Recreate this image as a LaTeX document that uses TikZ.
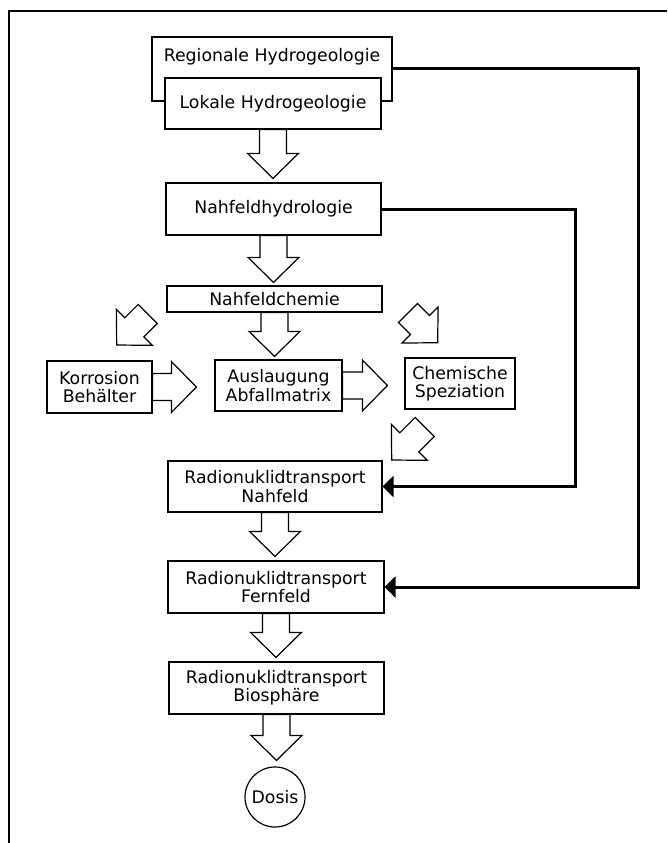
\documentclass[tikz,border=0pt]{standalone}
\usepackage{fontspec}
\setmainfont{DejaVu Sans}
\usetikzlibrary{calc,arrows.meta}
\newcommand\lbl{\fontsize{17.3pt}{18.3pt}\selectfont}
% outlined block arrow from #1 to #2 (tip at #2)
\newcommand\blockarr[2]{%
  \path (#1) coordinate (ba-a) (#2) coordinate (ba-b);
  \path ($(ba-b)!25pt!(ba-a)$) coordinate (ba-h);
  \draw[barr] ($(ba-a)!13.5pt!90:(ba-b)$) -- ($(ba-h)!13.5pt!-90:(ba-a)$)
    -- ($(ba-h)!25.5pt!-90:(ba-a)$) -- (ba-b) -- ($(ba-h)!25.5pt!90:(ba-a)$)
    -- ($(ba-h)!13.5pt!90:(ba-a)$) -- ($(ba-a)!13.5pt!-90:(ba-b)$) -- cycle;}
\begin{document}
\begin{tikzpicture}[x=1pt,y=-1pt,
  box/.style={draw, line width=1.2pt, rectangle, inner sep=0pt, align=center, fill=white, font=\lbl},
  barr/.style={draw, line width=1.2pt, fill=white, line join=miter},
  feed/.style={line width=3pt, line join=miter, -{Triangle[length=11pt,width=21pt]}},
  frame/.style={line width=1.3pt}]
\useasboundingbox (0,0) rectangle (667,843);
\draw[frame] (667,11) -- (9,11) -- (9,843);

% boxes
\node[box, minimum width=240pt, minimum height=64pt] (reg) at (272,69) {};
\node[font=\lbl, inner sep=0pt] (regt) at (272,57) {Regionale Hydrogeologie};
\node[box, minimum width=216pt, minimum height=51pt] (lok) at (273,103.5) {Lokale Hydrogeologie};
\node[box, minimum width=215pt, minimum height=52pt] (hyd) at (273.5,209) {Nahfeldhydrologie};
\node[box, minimum width=215pt, minimum height=26pt] (chem) at (274.5,299) {Nahfeldchemie};
\node[box, minimum width=105pt, minimum height=52pt] (kor) at (99.5,387) {Korrosion\\Behälter};
\node[box, minimum width=127pt, minimum height=51pt] (aus) at (278.5,385.5) {Auslaugung\\Abfallmatrix};
\node[box, minimum width=110pt, minimum height=51pt] (spez) at (460,383.5) {Chemische\\Speziation};
\node[box, minimum width=214pt, minimum height=51pt] (rnn) at (275,486.5) {Radionuklidtransport\\Nahfeld};
\node[box, minimum width=216pt, minimum height=52pt] (rnf) at (276,587) {Radionuklidtransport\\Fernfeld};
\node[box, minimum width=215pt, minimum height=52pt] (rnb) at (276.5,688) {Radionuklidtransport\\Biosphäre};
\node[box, circle, minimum size=60pt] (dos) at (275,797) {Dosis};

% vertical block arrows
\blockarr{lok.south}{$(lok.south |- hyd.north)+(0,-4)$}
\blockarr{hyd.south}{$(hyd.south |- chem.north)+(0,-3)$}
\blockarr{chem.south}{$(chem.south |- aus.north)+(0,-3)$}
\blockarr{rnn.south}{$(rnn.south |- rnf.north)+(0,-4)$}
\blockarr{rnf.south}{$(rnf.south |- rnb.north)+(0,-4)$}
\blockarr{rnb.south}{$(rnb.south |- dos.north)+(0,-6)$}

% horizontal block arrows
\blockarr{kor.east}{$(kor.east -| aus.west)+(-18,0)$}
\blockarr{aus.east}{$(aus.east -| spez.west)+(-17,0)$}

% diagonal block arrows
\coordinate (d1a) at (147.7,314); \coordinate (d1b) at (116.7,345);
\coordinate (d2a) at (408,313);   \coordinate (d2b) at (437.7,342.7);
\coordinate (d3a) at (424.7,427); \coordinate (d3b) at (391.7,460);
\blockarr{d1a}{d1b}
\blockarr{d2a}{d2b}
\blockarr{d3a}{d3b}

% feedback lines
\coordinate (rA) at (638,0);
\coordinate (rB) at (575,0);
\draw[feed] (reg.east) -| (rA |- rnf.east) -- (rnf.east);
\draw[feed] (hyd.east) -| (rB |- rnn.east) -- (rnn.east);
\end{tikzpicture}
\end{document}
